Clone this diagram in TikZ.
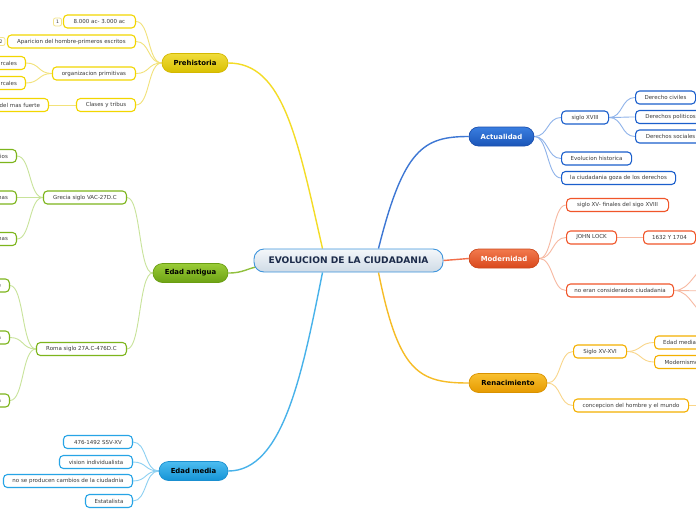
\documentclass[tikz,border=0pt]{standalone}
\usepackage{fontspec}
\setmainfont{DejaVu Sans}
\usetikzlibrary{calc}
\usetikzlibrary{backgrounds}
\definecolor{textgray}{RGB}{58, 58, 58}
\definecolor{hubtext}{RGB}{28, 43, 74}
% Prehistoria
\definecolor{preA}{RGB}{240, 220, 60}
\definecolor{preB}{RGB}{217, 192, 0}
\definecolor{preD}{RGB}{212, 184, 0}
\definecolor{preC}{RGB}{242, 214, 0}
\definecolor{preL}{RGB}{242, 226, 122}
% Edad antigua
\definecolor{antA}{RGB}{154, 204, 56}
\definecolor{antB}{RGB}{109, 162, 20}
\definecolor{antD}{RGB}{106, 158, 18}
\definecolor{antC}{RGB}{125, 181, 28}
\definecolor{antL}{RGB}{200, 227, 154}
% Edad media
\definecolor{medA}{RGB}{76, 188, 240}
\definecolor{medB}{RGB}{21, 148, 214}
\definecolor{medD}{RGB}{26, 143, 208}
\definecolor{medC}{RGB}{39, 164, 230}
\definecolor{medL}{RGB}{141, 208, 242}
% Actualidad
\definecolor{actA}{RGB}{58, 126, 224}
\definecolor{actB}{RGB}{26, 85, 184}
\definecolor{actD}{RGB}{26, 79, 174}
\definecolor{actC}{RGB}{27, 95, 204}
\definecolor{actL}{RGB}{143, 179, 234}
% Modernidad
\definecolor{modA}{RGB}{242, 122, 78}
\definecolor{modB}{RGB}{217, 72, 28}
\definecolor{modD}{RGB}{204, 74, 30}
\definecolor{modC}{RGB}{240, 86, 42}
\definecolor{modL}{RGB}{247, 185, 162}
% Renacimiento
\definecolor{renA}{RGB}{248, 192, 48}
\definecolor{renB}{RGB}{230, 154, 0}
\definecolor{renD}{RGB}{217, 146, 0}
\definecolor{renC}{RGB}{244, 176, 0}
\definecolor{renL}{RGB}{249, 214, 138}
% Centre
\definecolor{hubA}{RGB}{244, 247, 250}
\definecolor{hubB}{RGB}{207, 219, 230}
\definecolor{hubD}{RGB}{61, 148, 220}
\definecolor{badgeC}{RGB}{243, 228, 138}
\tikzset{
  hub/.style={shade, top color=hubA, bottom color=hubB, draw=hubD, line width=0.9pt,
    rounded corners=10pt, minimum width=189pt, minimum height=23pt, inner sep=0pt,
    text=hubtext, font=\fontsize{9.1}{9.5}\selectfont\bfseries},
  topic/.style={shade, line width=0.7pt, rounded corners=9.5pt, minimum height=19pt,
    inner sep=0pt, font=\fontsize{6.9}{7}\selectfont\bfseries},
  idea/.style={draw, fill=white, line width=1.1pt, rounded corners=4pt, minimum height=13pt,
    inner sep=0pt, text=textgray, font=\fontsize{5.5}{6}\selectfont},
  cut/.style={idea, text width=#1, align=right, inner xsep=8.5pt, anchor=east},
  badge/.style={draw=badgeC, fill=white, line width=0.8pt, rounded corners=2pt, minimum width=8pt,
    minimum height=8pt, inner sep=0pt, text=textgray, font=\fontsize{4.6}{5}\selectfont},
  link/.style={line width=0.9pt},
  trunk/.style={line width=1.4pt},
}

\begin{document}
\begin{tikzpicture}[x=1pt, y=-1pt]
    \useasboundingbox (0,0) rectangle (696,520);
    % Centre
    \node[hub] (c) at (348.5,260.5) {EVOLUCION DE LA CIUDADANIA};
    % Prehistoria
    \node[topic, top color=preA, bottom color=preB, draw=preD, minimum width=66pt] (pre) at (195,63) {Prehistoria};
    \node[idea, draw=preC, minimum width=72pt, anchor=east] (pre1) at (136,21.5) {8.000 ac- 3.000 ac};
    \node[idea, draw=preC, minimum width=128pt, anchor=east] (pre2) at (136,41.5) {Aparicion del hombre-primeros escritos};
    \node[idea, draw=preC, minimum width=83pt, anchor=east] (pre3) at (136,73.5) {organizacion primitivas};
    \node[idea, draw=preC, minimum width=59pt, anchor=east] (pre4) at (136,105) {Clases y tribus};
    \node[cut=40pt, draw=preC] (pre31) at (26,63) {rcales};
    \node[cut=40pt, draw=preC] (pre32) at (26,83) {rcales};
    \node[cut=60pt, draw=preC] (pre41) at (49,105) {del mas fuerte};
    \node[badge] (nr1) at (57.5,22) {1};
    \node[badge] (nr2) at (1,41.5) {2};
    % Edad antigua
    \node[topic, top color=antA, bottom color=antB, draw=antD, minimum width=75pt] (ant) at (190.5,273) {Edad antigua};
    \node[idea, draw=antC, minimum width=83pt, anchor=east] (gre) at (127,197.5) {Grecia siglo VAC-27D.C};
    \node[idea, draw=antC, minimum width=90pt, anchor=east] (rom) at (127,349) {Roma siglo 27A.C-476D.C};
    \node[cut=30pt, draw=antC] (gre1) at (17,156) {ios};
    \node[cut=30pt, draw=antC] (gre2) at (17,197.5) {nas};
    \node[cut=30pt, draw=antC] (gre3) at (17,239) {nas};
    \node[cut=30pt, draw=antC] (rom1) at (10,285.5) {e};
    \node[cut=30pt, draw=antC] (rom2) at (10,337.5) {a};
    \node[cut=30pt, draw=antC] (rom3) at (10,400.5) {a};
    % Edad media
    \node[topic, top color=medA, bottom color=medB, draw=medD, minimum width=69pt] (med) at (193.5,471) {Edad media};
    \node[idea, draw=medC, minimum width=69pt, anchor=east] (med1) at (133,442) {476-1492 SSV-XV};
    \node[idea, draw=medC, minimum width=73pt, anchor=east] (med2) at (133,462) {vision individualista};
    \node[idea, draw=medC, minimum width=129pt, anchor=east] (med3) at (133,481) {no se producen cambios de la ciudadnia};
    \node[idea, draw=medC, minimum width=47pt, anchor=east] (med4) at (133,501) {Estatalista};
    % Actualidad
    \node[topic, top color=actA, bottom color=actB, draw=actD, text=white, minimum width=65pt] (act) at (501.5,136.5) {Actualidad};
    \node[idea, draw=actC, minimum width=47pt, anchor=west] (act1) at (561,117.5) {siglo XVIII};
    \node[idea, draw=actC, minimum width=70pt, anchor=west] (act2) at (561,158.5) {Evolucion historica};
    \node[idea, draw=actC, minimum width=114pt, anchor=west] (act3) at (561,178) {la ciudadania goza de los derechos};
    \node[idea, draw=actC, minimum width=60pt, anchor=west] (act11) at (635,97.5) {Derecho civiles};
    \node[idea, draw=actC, minimum width=70pt, anchor=west] (act12) at (635,117) {Derechos politicos};
    \node[idea, draw=actC, minimum width=70pt, anchor=west] (act13) at (635,136.5) {Derechos sociales};
    % Modernidad
    \node[topic, top color=modA, bottom color=modB, draw=modD, text=white, minimum width=70pt] (mod) at (504,258.5) {Modernidad};
    \node[idea, draw=modC, minimum width=102pt, anchor=west] (mod1) at (566,205) {siglo XV- finales del sigo XVIII};
    \node[idea, draw=modC, minimum width=50pt, anchor=west] (mod2) at (566,237.5) {JOHN LOCK};
    \node[idea, draw=modC, minimum width=107pt, anchor=west] (mod3) at (566,290.5) {no eran considerados ciudadania};
    \node[idea, draw=modC, minimum width=52pt, anchor=west] (mod21) at (643,237.5) {1632 Y 1704};
    \coordinate (mod31) at (712,266);
    \coordinate (mod32) at (712,291);
    \coordinate (mod33) at (712,316);
    % Renacimiento
    \node[topic, top color=renA, bottom color=renB, draw=renD, minimum width=78pt] (ren) at (508,383) {Renacimiento};
    \node[idea, draw=renC, minimum width=53pt, anchor=west] (ren1) at (573,351.5) {Siglo XV-XVI};
    \node[idea, draw=renC, minimum width=115pt, anchor=west] (ren2) at (573,405.5) {concepcion del hombre y el mundo};
    \node[idea, draw=renC, minimum width=50pt, anchor=west] (ren11) at (654,342.5) {Edad media};
    \node[idea, draw=renC, minimum width=54pt, anchor=west] (ren12) at (654,362) {Modernismo};
    \coordinate (ren21) at (712,405.5);
    % Connectors
    \begin{scope}[on background layer]
        \fill[white] (0,0) rectangle (696,520);
        % centre to topics
        \draw[trunk, preC!85!white] (pre.east) .. controls +(55,0) and +(-25,-110) .. ([xshift=-26pt]c.north);
        \draw[trunk, antC!85!white] (ant.east) .. controls +(15,0) and +(-12,2) .. ([xshift=5pt,yshift=-6pt]c.west);
        \draw[trunk, medC!85!white] (med.east) .. controls +(55,0) and +(-20,100) .. ([xshift=-26pt]c.south);
        \draw[trunk, actC!85!white] (act.west) .. controls +(-45,0) and +(25,-100) .. ([xshift=30pt]c.north);
        \draw[trunk, modC!85!white] (mod.west) -- (c.east);
        \draw[trunk, renC!85!white] (ren.west) .. controls +(-50,0) and +(20,100) .. ([xshift=30pt]c.south);
        % Prehistoria
        \foreach \k in {pre1,pre2,pre3,pre4}
            \draw[link, preL] (pre.west) .. controls +(-14,0) and +(14,0) .. (\k.east);
        \foreach \k in {pre31,pre32}
            \draw[link, preL] (pre3.west) .. controls +(-14,0) and +(14,0) .. (\k.east);
        \draw[link, preL] (pre4.west) -- (pre41.east);
        % Edad antigua
        \foreach \k in {gre,rom}
            \draw[link, antL] (ant.west) .. controls +(-14,0) and +(14,0) .. (\k.east);
        \foreach \k in {gre1,gre2,gre3}
            \draw[link, antL] (gre.west) .. controls +(-14,0) and +(14,0) .. (\k.east);
        \foreach \k in {rom1,rom2,rom3}
            \draw[link, antL] (rom.west) .. controls +(-14,0) and +(14,0) .. (\k.east);
        % Edad media
        \foreach \k in {med1,med2,med3,med4}
            \draw[link, medL] (med.west) .. controls +(-14,0) and +(14,0) .. (\k.east);
        % Actualidad
        \foreach \k in {act1,act2,act3}
            \draw[link, actL] (act.east) .. controls +(14,0) and +(-14,0) .. (\k.west);
        \foreach \k in {act11,act12,act13}
            \draw[link, actL] (act1.east) .. controls +(14,0) and +(-14,0) .. (\k.west);
        % Modernidad
        \foreach \k in {mod1,mod2,mod3}
            \draw[link, modL] (mod.east) .. controls +(14,0) and +(-14,0) .. (\k.west);
        \draw[link, modL] (mod2.east) -- (mod21.west);
        \foreach \k in {mod31,mod32,mod33}
            \draw[link, modL] (mod3.east) .. controls +(18,0) and +(-18,0) .. (\k);
        % Renacimiento
        \foreach \k in {ren1,ren2}
            \draw[link, renL] (ren.east) .. controls +(14,0) and +(-14,0) .. (\k.west);
        \foreach \k in {ren11,ren12}
            \draw[link, renL] (ren1.east) .. controls +(14,0) and +(-14,0) .. (\k.west);
        \draw[link, renL] (ren2.east) -- (ren21);
    \end{scope}
\end{tikzpicture}
\end{document}
